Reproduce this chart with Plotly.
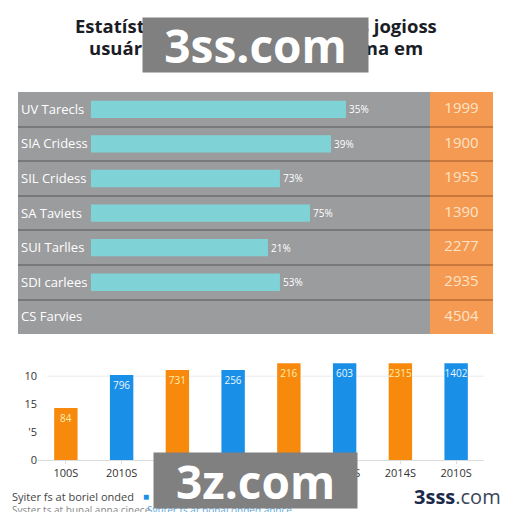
import plotly.graph_objects as go

# ---------------- data ----------------
row_labels = ["UV Tarecls", "SIA Cridess", "SIL Cridess", "SA Taviets", "SUI Tarlles", "SDI carlees", "CS Farvies"]
row_values = [85, 80, 63, 73, 59, 63, None]
row_pct_text = ["35%", "39%", "73%", "75%", "21%", "53%", ""]
row_counts = ["1999", "1900", "1955", "1390", "2277", "2935", "4504"]

year_labels = ["100S", "2010S", "2011S", "2012S", "2013S", "2013S", "2014S", "2010S"]
orange_idx = [0, 2, 4, 6]
orange_vals = [9.3, 16.1, 17.3, 17.3]
orange_text = ["84", "731", "216", "2315"]
blue_idx = [1, 3, 5, 7]
blue_vals = [15.2, 16.1, 17.3, 17.3]
blue_text = ["796", "256", "603", "1402"]
y_ticks = [0, 5, 10, 15]
y_tick_text = ["0", "'5", "15", "10"]

W = H = 512
VS = 0.986  # vertical compensation for the capture
def px(v):
    return v / W
def py(v):
    return 1 - (v / VS) / H

FONT = "Open Sans"
GRAY = "#9b9c9e"
CYAN = "#7fd3d6"
ORANGE_COL = "#f59a52"
BAR_ORANGE = "#f7890c"
BAR_BLUE = "#1a8fe8"

fig = go.Figure()

rows = list(range(len(row_labels)))
fig.add_trace(go.Bar(
    x=row_values, y=rows, orientation="h",
    marker=dict(color=CYAN, line=dict(width=0)),
    width=0.5,
    text=row_pct_text, textposition="outside",
    textfont=dict(color="white", size=10, family=FONT),
    cliponaxis=False, xaxis="x", yaxis="y", showlegend=False,
))
fig.add_trace(go.Scatter(
    x=[0] * len(rows), y=rows, mode="text", text=row_counts,
    textfont=dict(color="#fde3c6", size=15, family=FONT),
    xaxis="x2", yaxis="y2", showlegend=False,
))

fig.add_trace(go.Bar(
    x=orange_idx, y=orange_vals, width=0.42,
    marker=dict(color=BAR_ORANGE, line=dict(width=0)),
    text=orange_text, textposition="inside", insidetextanchor="end",
    textangle=0, constraintext="none",
    textfont=dict(color="#ffeeb0", size=10, family=FONT),
    xaxis="x3", yaxis="y3", showlegend=False,
))
fig.add_trace(go.Bar(
    x=blue_idx, y=blue_vals, width=0.42,
    marker=dict(color=BAR_BLUE, line=dict(width=0)),
    text=blue_text, textposition="inside", insidetextanchor="end",
    textangle=0, constraintext="none",
    textfont=dict(color="#e8f6ff", size=10, family=FONT),
    xaxis="x3", yaxis="y3", showlegend=False,
))

sep_vals = [i + 0.5 for i in rows[:-1]]
top_dom = [py(334), py(92)]

fig.update_layout(
    width=W, height=H, margin=dict(l=0, r=0, t=0, b=0),
    paper_bgcolor="white", plot_bgcolor="rgba(0,0,0,0)",
    barmode="overlay",
    font=dict(family=FONT),
    xaxis=dict(domain=[px(18), px(430)], range=[-24.3, 113], visible=False,
               anchor="y", fixedrange=True),
    yaxis=dict(domain=top_dom, range=[6.5, -0.5], anchor="x",
               tickvals=rows, ticktext=row_labels, ticklabelposition="inside",
               tickfont=dict(color="white", size=13, family=FONT),
               ticks="", showgrid=False, zeroline=False, showline=False,
               minor=dict(tickmode="array", tickvals=sep_vals, showgrid=True,
                          gridcolor="#77787a", gridwidth=2, ticks="")),
    xaxis2=dict(domain=[px(430), px(493)], range=[-1, 1], visible=False, anchor="y2"),
    yaxis2=dict(domain=top_dom, range=[6.5, -0.5], anchor="x2", matches="y",
                showticklabels=False, ticks="", showgrid=False, zeroline=False,
                minor=dict(tickmode="array", tickvals=sep_vals, showgrid=True,
                           gridcolor="#c9773c", gridwidth=2, ticks="")),
    xaxis3=dict(domain=[px(38), px(484)], range=[-0.5, 7.5], anchor="y3",
                tickvals=list(range(len(year_labels))), ticktext=year_labels,
                tickfont=dict(color="#333333", size=11, family=FONT),
                showgrid=False, zeroline=False, showline=True, linecolor="#dcdcdc",
                ticks="outside", ticklen=3, tickcolor="#dcdcdc"),
    yaxis3=dict(domain=[py(460), py(362.6)], range=[0, 17.4], anchor="x3",
                tickvals=y_ticks, ticktext=y_tick_text,
                tickfont=dict(color="#333333", size=11, family=FONT),
                showgrid=False, zeroline=False, ticks=""),
)

shapes = [
    dict(type="rect", xref="x domain", yref="y domain", x0=0, x1=1, y0=0, y1=1,
         fillcolor=GRAY, line=dict(width=0), layer="below"),
    dict(type="rect", xref="x2 domain", yref="y2 domain", x0=0, x1=1, y0=0, y1=1,
         fillcolor=ORANGE_COL, line=dict(width=0), layer="below"),
    dict(type="line", xref="x3 domain", yref="y3", x0=0.02, x1=1, y0=y_ticks[-1], y1=y_ticks[-1],
         line=dict(color="#ececec", width=1), layer="below"),
]
fig.update_layout(shapes=shapes)

def note(text, x, y, xa="center", ya="middle", **kw):
    d = dict(text=text, x=px(x), y=py(y), xref="paper", yref="paper",
             xanchor=xa, yanchor=ya, showarrow=False)
    d.update(kw)
    return d

ann = [
    note("<b>Estatísticas de desempenho dos jogioss</b>", 256, 25,
         font=dict(size=18.5, color="#1b1d26", family=FONT)),
    note("<b>usuários por categoria e sistema em</b>", 256, 47,
         font=dict(size=18.5, color="#1b1d26", family=FONT)),
    note("Syiter fs at boriel onded", 10, 496, xa="left",
         font=dict(size=11, color="#444444", family=FONT)),
    note("■", 146, 496, font=dict(size=10, color=BAR_BLUE, family=FONT)),
    note("Syster ts at bunal anna cinece", 10, 510, xa="left",
         font=dict(size=10, color="#888888", family=FONT)),
    note("Sytiter ts at bonal onded annce", 145, 510, xa="left",
         font=dict(size=10, color="#5aa6e0", family=FONT)),
    note("<b>3sss</b><span style='color:#3a4558'>.com</span>", 503, 496, xa="right",
         font=dict(size=20, color="#1b2a4a", family=FONT)),
    note("<b>3ss.com</b>", 255.5, 45, width=225, height=54, bgcolor="#808080", borderpad=0,
         font=dict(size=46, color="white", family=FONT)),
    note("<b>3z.com</b>", 255.5, 480.5, width=203, height=55, bgcolor="#808080", borderpad=0,
         font=dict(size=46, color="white", family=FONT)),
]
fig.update_layout(annotations=ann)

fig.write_html("out.html", config={"displayModeBar": False},
               post_script="document.body.style.margin='0';document.body.style.overflow='hidden';")
